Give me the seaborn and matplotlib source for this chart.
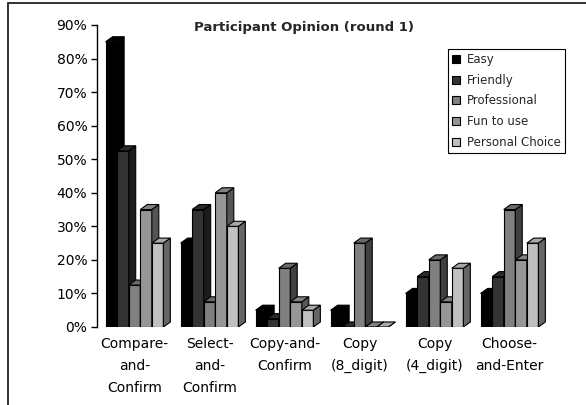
import numpy as np
import pandas as pd
import matplotlib
matplotlib.use("Agg")
import matplotlib.pyplot as plt
from matplotlib.patches import Polygon, Rectangle
from matplotlib.lines import Line2D
from matplotlib.ticker import FuncFormatter
import seaborn as sns

# ---- data (percent of participants) ----
methods = ["Compare-\nand-\nConfirm", "Select-\nand-\nConfirm", "Copy-and-\nConfirm",
           "Copy\n(8_digit)", "Copy\n(4_digit)", "Choose-\nand-Enter"]
attributes = ["Easy", "Friendly", "Professional", "Fun to use", "Personal Choice"]
easy = [85, 25, 5, 5, 10, 10]
friendly = [52.5, 35, 2.5, 0, 15, 15]
professional = [12.5, 7.5, 17.5, 25, 20, 35]
fun_to_use = [35, 40, 7.5, 0, 7.5, 20]
personal_choice = [25, 30, 5, 0, 17.5, 25]

front_cols = ["#000000", "#333333", "#808080", "#969696", "#c0c0c0"]
top_cols = ["#000000", "#2a2a2a", "#6a6a6a", "#828282", "#a8a8a8"]
side_cols = ["#000000", "#1c1c1c", "#404040", "#555555", "#666666"]

rows = []
for attr, vals in zip(attributes, [easy, friendly, professional, fun_to_use, personal_choice]):
    for m, v in zip(methods, vals):
        rows.append({"method": m, "attr": attr, "value": v})
df = pd.DataFrame(rows)

sns.set_style("white")
plt.rcParams['font.family'] = ['DejaVu Sans']

fig = plt.figure(figsize=(5.86, 4.05), dpi=100)
ax = fig.add_axes([97 / 586, 1 - 327 / 405, 450 / 586, 302 / 405])

sns.barplot(data=df, x="method", y="value", hue="attr", hue_order=attributes,
            order=methods, palette=front_cols, width=0.77, gap=0,
            edgecolor="black", linewidth=0.8, saturation=1, legend=False, ax=ax)

# fake 3D depth: top and side faces for every bar
dx, dy = 0.093, 1.5
bars = []
for i, p in enumerate(ax.patches):
    bars.append((p.get_x(), p, i // len(methods)))
bars.sort(key=lambda t: t[0])
for z, (x0, p, k) in enumerate(bars):
    w = p.get_width()
    h = p.get_height()
    p.set_zorder(3 + z)
    top = Polygon([[x0, h], [x0 + dx, h + dy], [x0 + w + dx, h + dy], [x0 + w, h]],
                  closed=True, facecolor=top_cols[k], edgecolor="black", lw=0.8, zorder=3 + z)
    side = Polygon([[x0 + w, 0], [x0 + w + dx, dy], [x0 + w + dx, h + dy], [x0 + w, h]],
                   closed=True, facecolor=side_cols[k], edgecolor="black", lw=0.8, zorder=3 + z)
    ax.add_patch(side)
    ax.add_patch(top)

ax.set_xlim(-0.5, 5.5)
ax.set_ylim(0, 90)
ax.set_yticks(np.arange(0, 91, 10))
ax.yaxis.set_major_formatter(FuncFormatter(lambda v, _: f"{v:.0f}%"))
ax.set_xlabel("")
ax.set_ylabel("")
for s in ["top", "right", "bottom"]:
    ax.spines[s].set_visible(False)
ax.spines["left"].set_color("black")
ax.spines["left"].set_linewidth(1)
ax.tick_params(axis="y", left=True, length=4, width=1, color="black",
               labelsize=10, pad=3, labelcolor="black")
ax.tick_params(axis="x", bottom=False, labelsize=10, pad=4, labelcolor="black")
for t in ax.get_xticklabels():
    t.set_linespacing(1.7)
    t.set_va("top")

fig.text(304 / 586, 1 - 27 / 405, "Participant Opinion (round 1)", ha="center", va="center",
         fontsize=9.5, fontweight="bold")

handles = [Line2D([], [], marker="s", linestyle="none", markersize=6,
                  markerfacecolor=c, markeredgecolor="black", markeredgewidth=0.8)
           for c in front_cols]
leg = fig.legend(handles, attributes, loc="upper right",
                 bbox_to_anchor=(565 / 586, 1 - 49 / 405), fontsize=8.5,
                 frameon=True, fancybox=False, edgecolor="black", framealpha=1,
                 handlelength=0.8, handletextpad=0.5, labelspacing=0.65,
                 borderpad=0.35, borderaxespad=0)
leg.get_frame().set_linewidth(0.8)

# chart area border (partially cropped on the right and bottom)
fig.patches.append(Rectangle((8 / 586, -0.1), 1.0, 1.1 - 3 / 405, fill=False,
                             edgecolor="#222222", lw=1.3, transform=fig.transFigure))

fig.savefig("out.png", dpi=100)
